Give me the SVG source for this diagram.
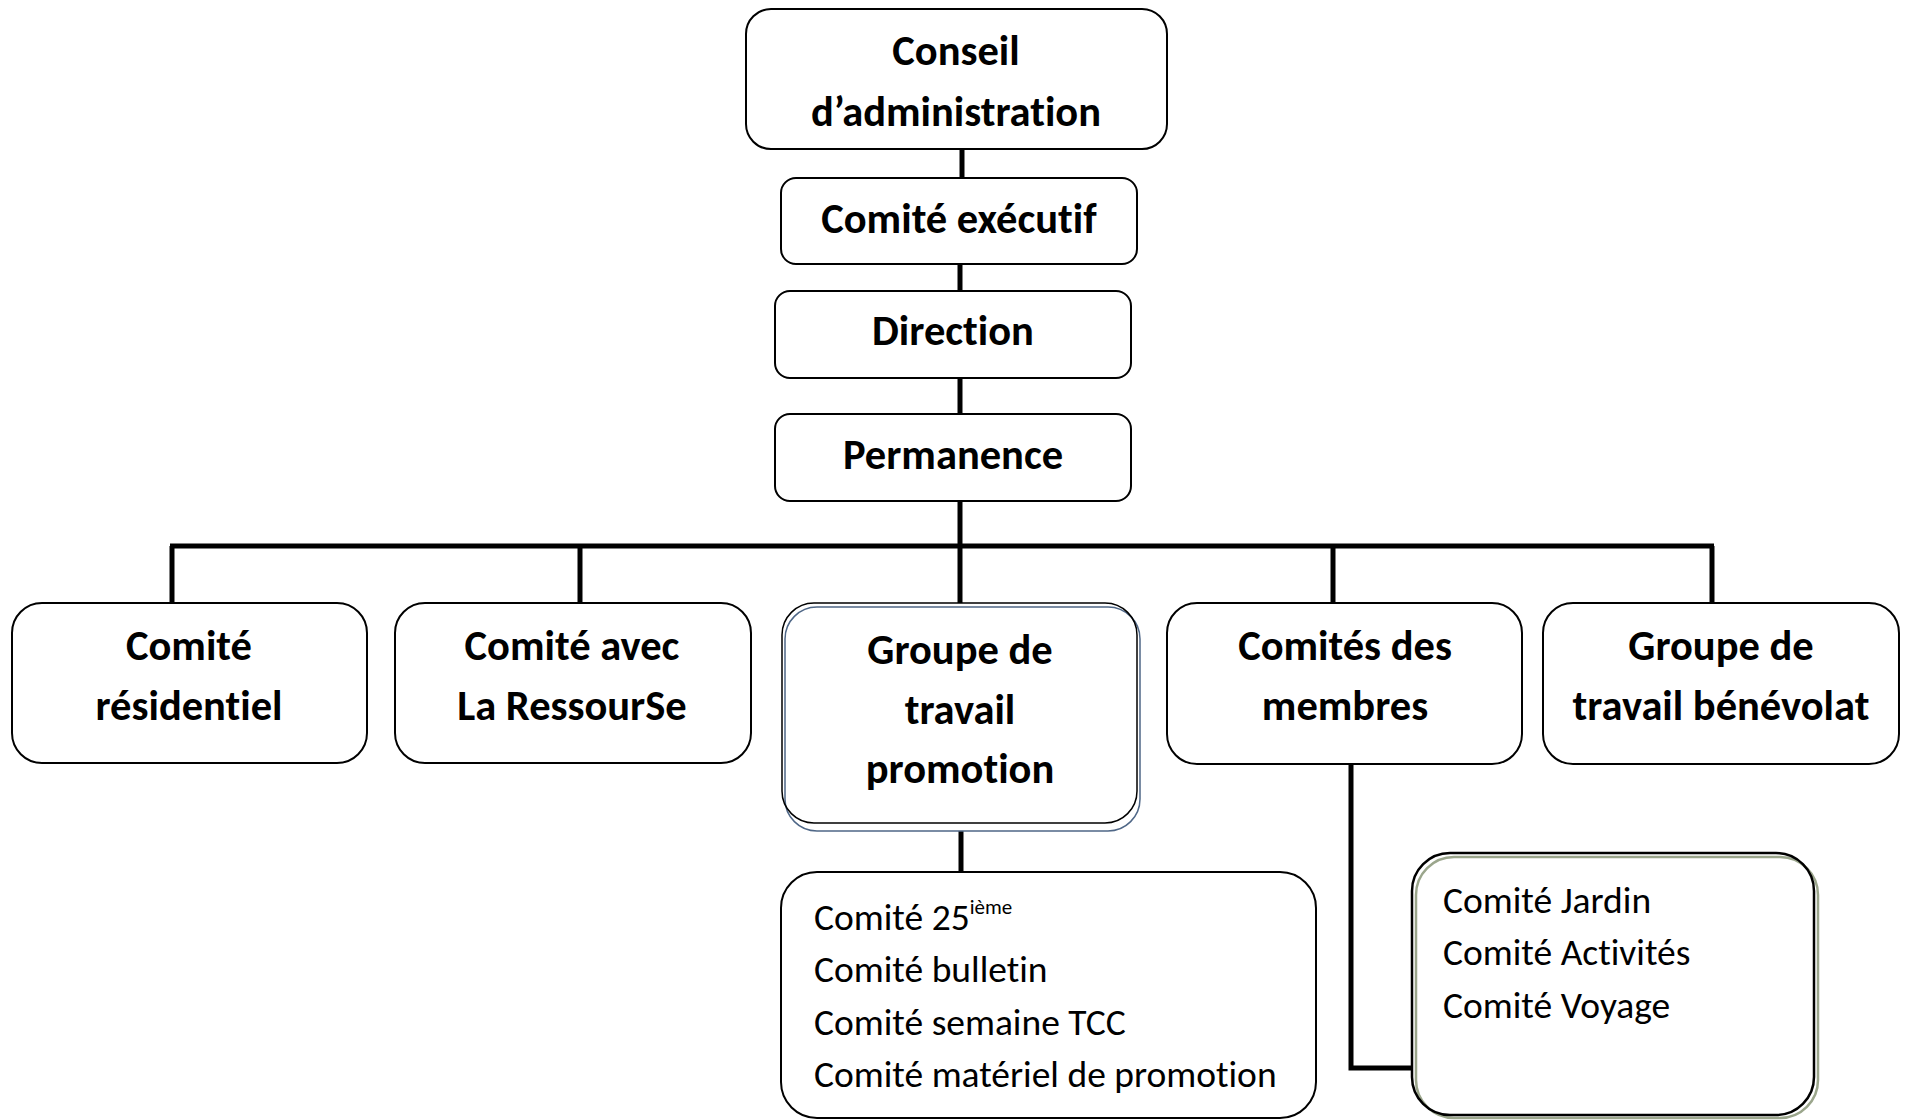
<svg xmlns="http://www.w3.org/2000/svg" width="1906" height="1120" viewBox="0 0 1906 1120">
<style>
.box{fill:#fff;stroke:#000;stroke-width:2}
.b{font-family:Carlito,Calibri,Lato,"Open Sans",sans-serif;font-weight:bold;font-size:42.5px;fill:#000;text-anchor:middle;font-variant-ligatures:none}
.r{font-family:Carlito,Calibri,Lato,"Open Sans",sans-serif;font-size:37.5px;fill:#000;font-variant-ligatures:none}
.sup{font-size:21px}
.con{fill:none;stroke:#000;stroke-width:5}
</style>
<rect width="1906" height="1120" fill="#fff"/>
<g id="connectors">
<line class="con" x1="962" y1="149" x2="962" y2="179"/>
<line class="con" x1="960" y1="264" x2="960" y2="292"/>
<line class="con" x1="960" y1="378" x2="960" y2="414"/>
<line class="con" x1="960" y1="501" x2="960" y2="546"/>
<line class="con" x1="170" y1="546" x2="1714" y2="546"/>
<line class="con" x1="172" y1="546" x2="172" y2="603"/>
<line class="con" x1="580" y1="546" x2="580" y2="603"/>
<line class="con" x1="960" y1="546" x2="960" y2="603"/>
<line class="con" x1="1333" y1="546" x2="1333" y2="603"/>
<line class="con" x1="1712" y1="546" x2="1712" y2="603"/>
<line class="con" x1="961" y1="828" x2="961" y2="872"/>
<polyline class="con" points="1351,764 1351,1068 1412,1068"/>
</g>
<g id="n-conseil">
<rect class="box" x="746" y="9" width="421" height="140" rx="25"/>
<text class="b" x="956" y="65">Conseil</text>
<text class="b" x="956" y="126">d’administration</text>
</g>
<g id="n-executif">
<rect class="box" x="781" y="178" width="356" height="86" rx="15"/>
<text class="b" x="959" y="233">Comité exécutif</text>
</g>
<g id="n-direction">
<rect class="box" x="775" y="291" width="356" height="87" rx="15"/>
<text class="b" x="953" y="345">Direction</text>
</g>
<g id="n-permanence">
<rect class="box" x="775" y="414" width="356" height="87" rx="15"/>
<text class="b" x="953" y="469">Permanence</text>
</g>
<g id="n-residentiel">
<rect class="box" x="12" y="603" width="355" height="160" rx="30"/>
<text class="b" x="189" y="660">Comité</text>
<text class="b" x="189" y="720">résidentiel</text>
</g>
<g id="n-ressourse">
<rect class="box" x="395" y="603" width="356" height="160" rx="30"/>
<text class="b" x="572" y="660">Comité avec</text>
<text class="b" x="572" y="720">La RessourSe</text>
</g>
<g id="n-promotion">
<rect x="785" y="607" width="355" height="224" rx="32" fill="#fff" stroke="#4f6787" stroke-width="1.5"/>
<rect x="782" y="603" width="355" height="220" rx="32" fill="none" stroke="#000" stroke-width="1.5"/>
<text class="b" x="960" y="664">Groupe de</text>
<text class="b" x="960" y="724">travail</text>
<text class="b" x="960" y="783">promotion</text>
</g>
<g id="n-membres">
<rect class="box" x="1167" y="603" width="355" height="161" rx="30"/>
<text class="b" x="1345" y="660">Comités des</text>
<text class="b" x="1345" y="720">membres</text>
</g>
<g id="n-benevolat">
<rect class="box" x="1543" y="603" width="356" height="161" rx="30"/>
<text class="b" x="1721" y="660">Groupe de</text>
<text class="b" x="1721" y="720">travail bénévolat</text>
</g>
<g id="n-liste-promotion">
<rect class="box" x="781" y="872" width="535" height="246" rx="36"/>
<text class="r" x="814" y="930">Comité 25<tspan class="sup" dy="-16">ième</tspan></text>
<text class="r" x="814" y="982">Comité bulletin</text>
<text class="r" x="814" y="1035">Comité semaine TCC</text>
<text class="r" x="814" y="1087">Comité matériel de promotion</text>
</g>
<g id="n-liste-membres">
<rect x="1416" y="857" width="402" height="261" rx="38" fill="#fff" stroke="#9ba68c" stroke-width="2.5"/>
<rect x="1412" y="853" width="402" height="262" rx="38" fill="none" stroke="#000" stroke-width="2.5"/>
<text class="r" x="1443" y="913">Comité Jardin</text>
<text class="r" x="1443" y="965">Comité Activités</text>
<text class="r" x="1443" y="1018">Comité Voyage</text>
</g>
</svg>
